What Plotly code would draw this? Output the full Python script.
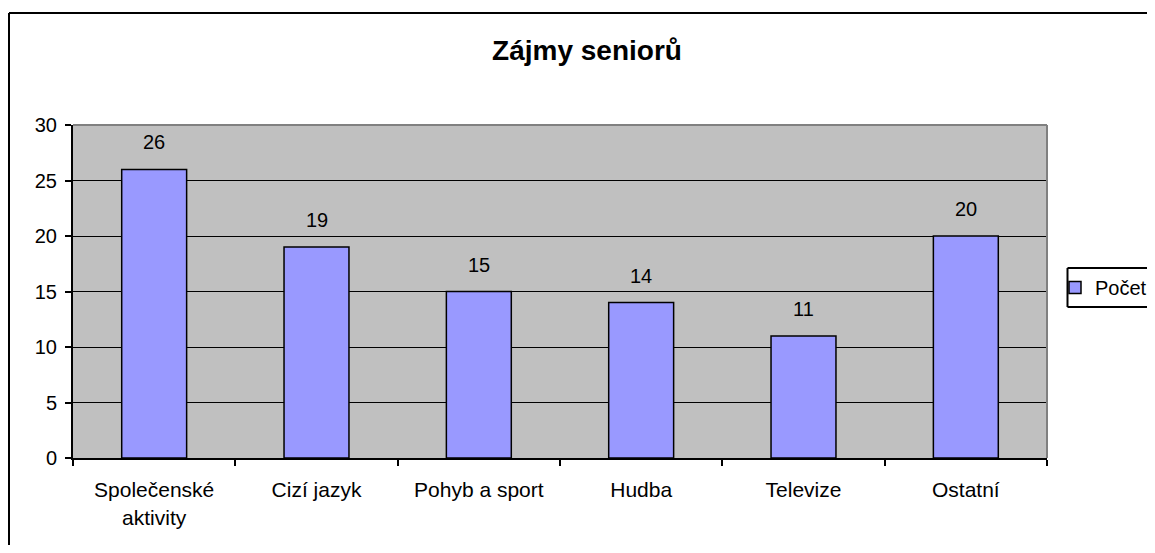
import plotly.graph_objects as go

categories = ["Společenské<br>aktivity", "Cizí jazyk", "Pohyb a sport", "Hudba", "Televize", "Ostatní"]
values = [26, 19, 15, 14, 11, 20]
series_name = "Počet"
title_text = "Zájmy seniorů"
y_ticks = [0, 5, 10, 15, 20, 25, 30]

FONT = "Liberation Sans, Arial, sans-serif"

# The page body has an 8px margin, so figure is 16px smaller than the window
W, H = 1139, 537
L, R, T, B = 65, 100, 117, 87
PW, PH = W - L - R, H - T - B


def px(x):
    return (x - 8 - L) / PW


def py(y):
    return (H - B - (y - 8)) / PH


XMAX = (W - L) / PW        # right edge of figure in paper units
YMIN = -B / PH             # bottom edge of figure in paper units

fig = go.Figure()
fig.add_trace(go.Bar(
    x=categories, y=values, name=series_name,
    marker=dict(color="#9999FF", line=dict(color="black", width=1.5)),
    width=0.4,
))

for c, v in zip(categories, values):
    fig.add_annotation(x=c, y=v, text=str(v), showarrow=False,
                       yanchor="bottom", yshift=14,
                       font=dict(family=FONT, size=20, color="black"))


def seg(x0, y0, x1, y1, color="black", width=2):
    fig.add_shape(type="line", xref="paper", yref="paper",
                  x0=x0, x1=x1, y0=y0, y1=y1,
                  line=dict(color=color, width=width))


# outer chart border (left and top visible)
seg(px(9), py(13), px(9), YMIN)
seg(px(9), py(13), XMAX, py(13))
# plot area border top/right (gray)
seg(0, 1, 1, 1, "#808080")
seg(1, 0, 1, 1, "#808080")
# legend box (right side runs off the image)
fig.add_shape(type="rect", xref="paper", yref="paper",
              x0=px(1067.5), x1=XMAX, y0=py(307), y1=py(268),
              line=dict(width=0), fillcolor="white", layer="below")
seg(px(1067.5), py(268), XMAX, py(268))
seg(px(1067.5), py(307), XMAX, py(307))
seg(px(1067.5), py(268), px(1067.5), py(307))

fig.update_layout(
    width=W, height=H,
    margin=dict(l=L, r=R, t=T, b=B, autoexpand=False),
    paper_bgcolor="white", plot_bgcolor="#C0C0C0",
    font=dict(family=FONT, size=20, color="black"),
    title=dict(text="<b>" + title_text + "</b>", x=(587 - 8) / W, xanchor="center",
               y=1 - (50 - 8) / H, yanchor="middle", xref="container", yref="container",
               font=dict(family=FONT, size=28, color="black")),
    showlegend=True,
    legend=dict(x=px(1055), xanchor="left", y=py(287.5), yanchor="middle",
                borderwidth=0, bgcolor="rgba(0,0,0,0)",
                font=dict(family=FONT, size=20, color="black"),
                itemclick=False),
    bargap=0.6,
)
fig.update_xaxes(
    showline=True, linecolor="black", linewidth=2,
    ticks="outside", ticklen=6, tickcolor="black", tickwidth=1.5,
    tickson="boundaries", showgrid=False, ticklabelstandoff=12,
    tickfont=dict(family=FONT, size=21),
)
fig.update_yaxes(
    range=[0, 30], tickvals=y_ticks, showline=True, linecolor="black", linewidth=2,
    ticks="outside", ticklen=6, tickcolor="black", tickwidth=1.5,
    showgrid=True, gridcolor="black", gridwidth=1.2, zeroline=False,
    ticklabelstandoff=4,
    tickfont=dict(family=FONT, size=20),
)

fig.write_html("out.html")
